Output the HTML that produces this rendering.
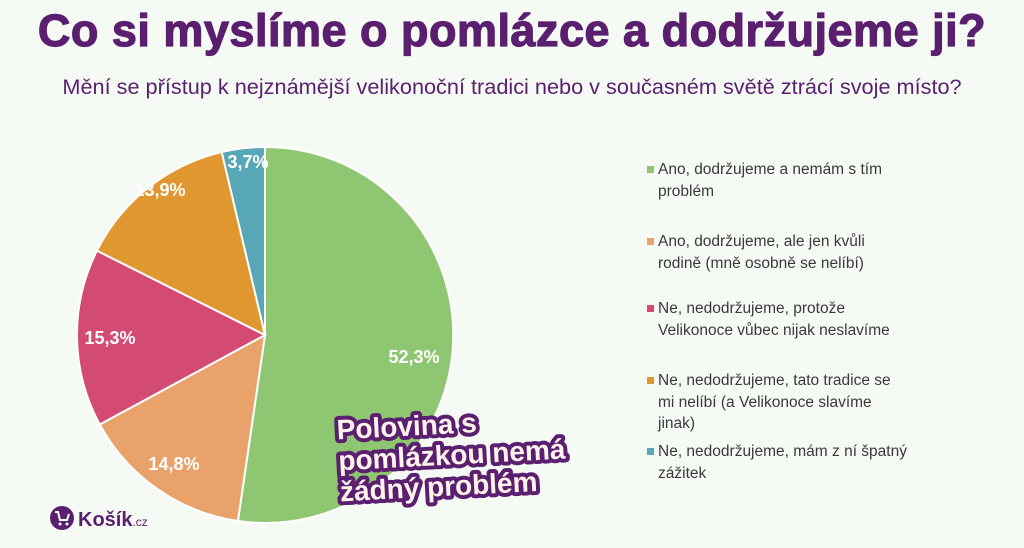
<!DOCTYPE html>
<html><head><meta charset="utf-8"><style>
body{margin:0;width:1024px;height:548px;background:#f6faf5;overflow:hidden;position:relative;font-family:"Liberation Sans",sans-serif}
.t{position:absolute;left:0;width:1024px;text-align:center;color:#5b1f6f;white-space:nowrap}
.lg{position:absolute;left:647px;font-size:15.5px;color:#3a3a3a;line-height:21.5px;white-space:nowrap}
.lg i{position:absolute;left:0;top:7px;width:7px;height:7px}
.lg span{display:block;padding-left:11px}
</style></head><body>
<div class="t" style="top:5px;font-size:45px;font-weight:bold;letter-spacing:0.5px;-webkit-text-stroke:1.2px #5b1f6f">Co si myslíme o pomlázce a dodržujeme ji?</div>
<div class="t" style="top:74px;font-size:21.7px">Mění se přístup k nejznámější velikonoční tradici nebo v současném světě ztrácí svoje místo?</div>
<svg width="1024" height="548" style="position:absolute;left:0;top:0">
<g stroke="#fff" stroke-width="2">
<path d="M265,335 L265,147 A188,188 0 1 1 237.9,521 Z" fill="#8fc672"/>
<path d="M265,335 L237.9,521 A188,188 0 0 1 99.7,424.5 Z" fill="#eaa26b"/>
<path d="M265,335 L99.7,424.5 A188,188 0 0 1 96.9,250.7 Z" fill="#d34a73"/>
<path d="M265,335 L96.9,250.7 A188,188 0 0 1 221.7,152 Z" fill="#e0972f"/>
<path d="M265,335 L221.7,152 A188,188 0 0 1 265,147 Z" fill="#57a7b6"/>
</g>
<g fill="#fff" font-weight="bold" font-size="18" text-anchor="middle" font-family="Liberation Sans,sans-serif">
<text x="414" y="363">52,3%</text>
<text x="174" y="470">14,8%</text>
<text x="110" y="344">15,3%</text>
<text x="160" y="196">13,9%</text>
<text x="248" y="168">3,7%</text>
</g>
<g transform="rotate(-3 460 450)" font-family="Liberation Sans,sans-serif" font-weight="bold" font-size="28" fill="#fff3ec" stroke="#5b1f6f" stroke-width="8" paint-order="stroke" stroke-linejoin="round">
<text x="338" y="433">Polovina s</text>
<text x="338" y="464">pomlázkou nemá</text>
<text x="338" y="495">žádný problém</text>
</g>
<circle cx="62" cy="518" r="12" fill="#5b1f6f"/>
<path d="M55,512 h3 l2,8 h7 l2,-6" stroke="#fff" stroke-width="2" fill="none"/>
<circle cx="60" cy="524" r="1.5" fill="#fff"/><circle cx="67" cy="524" r="1.5" fill="#fff"/>
<text x="78" y="526" font-family="Liberation Sans,sans-serif" font-weight="bold" font-size="20" fill="#5b1f6f">Košík<tspan font-size="12" font-weight="normal">.cz</tspan></text>
</svg>
<div class="lg" style="top:159px"><i style="background:#8fc672"></i><span>Ano, dodržujeme a nemám s tím<br>problém</span></div>
<div class="lg" style="top:231px"><i style="background:#eaa26b"></i><span>Ano, dodržujeme, ale jen kvůli<br>rodině (mně osobně se nelíbí)</span></div>
<div class="lg" style="top:298px"><i style="background:#d34a73"></i><span>Ne, nedodržujeme, protože<br>Velikonoce vůbec nijak neslavíme</span></div>
<div class="lg" style="top:370px"><i style="background:#e0972f"></i><span>Ne, nedodržujeme, tato tradice se<br>mi nelíbí (a Velikonoce slavíme<br>jinak)</span></div>
<div class="lg" style="top:441px"><i style="background:#57a7b6"></i><span>Ne, nedodržujeme, mám z ní špatný<br>zážitek</span></div>
</body></html>
